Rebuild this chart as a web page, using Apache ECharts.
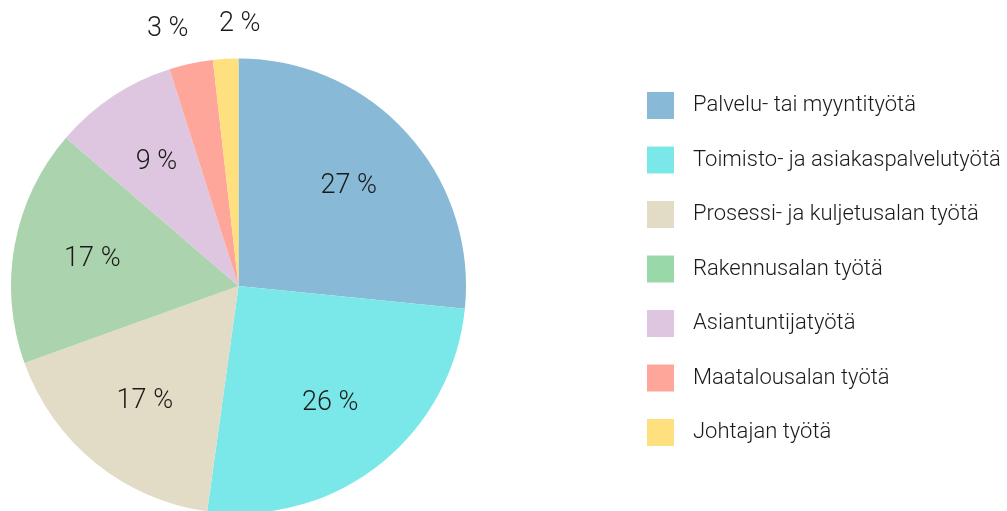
<!DOCTYPE html>
<html>
<head>
<meta charset="utf-8">
<script src="https://cdn.jsdelivr.net/npm/echarts@6/dist/echarts.min.js"></script>
<style>
  html, body { margin: 0; padding: 0; background: #fff; }
  #chart { width: 1007px; height: 511px; }
</style>
</head>
<body>
<div id="chart"></div>
<script>
// shares (per cent)
const categories = [
  'Palvelu- tai myyntityötä',
  'Toimisto- ja asiakaspalvelutyötä',
  'Prosessi- ja kuljetusalan työtä',
  'Rakennusalan työtä',
  'Asiantuntijatyötä',
  'Maatalousalan työtä',
  'Johtajan työtä'
];
const shares = [26.6, 25.6, 17.3, 16.8, 8.8, 3.1, 1.8];

const sliceColors = ['#88b9d6', '#7ae8e8', '#e2dcc6', '#abd4ae', '#dec6e0', '#fea69a', '#fee07e'];
const legendColors = ['#88b9d6', '#7ae8e8', '#e2dcc6', '#98d8a9', '#dec6e0', '#fea69a', '#fee07e'];

const FONT = 'Roboto';
const R = 227.5;
const CENTER = [238.5, 286];
const SMALL = 5; // slices below this get their label outside the pie

const fmt = (p) => Math.round(p.value) + ' %';

const chart = echarts.init(document.getElementById('chart'), null, { renderer: 'canvas' });

const labelStyle = { fontFamily: FONT, fontSize: 27, fontWeight: 300, color: '#1a1a1a', formatter: fmt };

const option = {
  animation: false,
  legend: {
    orient: 'vertical',
    left: 647,
    top: 92,
    padding: 0,
    itemWidth: 27,
    itemHeight: 27,
    itemGap: 27.5,
    selectedMode: false,
    icon: 'rect',
    textStyle: { fontFamily: FONT, fontSize: 22, fontWeight: 300, color: '#1a1a1a', padding: [0, 0, 0, 14] },
    data: categories.map((name, i) => ({ name, itemStyle: { color: legendColors[i], opacity: 1 } }))
  },
  series: [
    {
      type: 'pie',
      center: CENTER,
      radius: [0, R],
      startAngle: 90,
      clockwise: true,
      silent: true,
      label: { show: false },
      labelLine: { show: false },
      itemStyle: { borderWidth: 0 },
      data: categories.map((name, i) => ({ name, value: shares[i], itemStyle: { color: sliceColors[i] } }))
    },
    {
      // transparent ring that only carries the inside labels
      type: 'pie',
      center: CENTER,
      radius: [R * 0.28, R],
      startAngle: 90,
      silent: true,
      avoidLabelOverlap: false,
      itemStyle: { color: 'rgba(0,0,0,0)' },
      labelLine: { show: false },
      data: categories.map((name, i) => ({
        name, value: shares[i],
        label: Object.assign({ show: shares[i] >= SMALL, position: 'inside' }, labelStyle)
      }))
    },
    {
      // ring outside the pie for the small slices
      type: 'pie',
      center: CENTER,
      radius: [R + 7, R + 57],
      startAngle: 90,
      silent: true,
      avoidLabelOverlap: false,
      itemStyle: { color: 'rgba(0,0,0,0)' },
      labelLine: { show: false },
      data: categories.map((name, i) => ({
        name, value: shares[i],
        label: Object.assign({
          show: shares[i] < SMALL,
          position: 'inside',
          offset: [shares[i] < 2.5 ? 16 : -16, 0]
        }, labelStyle)
      }))
    }
  ]
};

chart.setOption(option);
</script>
</body>
</html>
